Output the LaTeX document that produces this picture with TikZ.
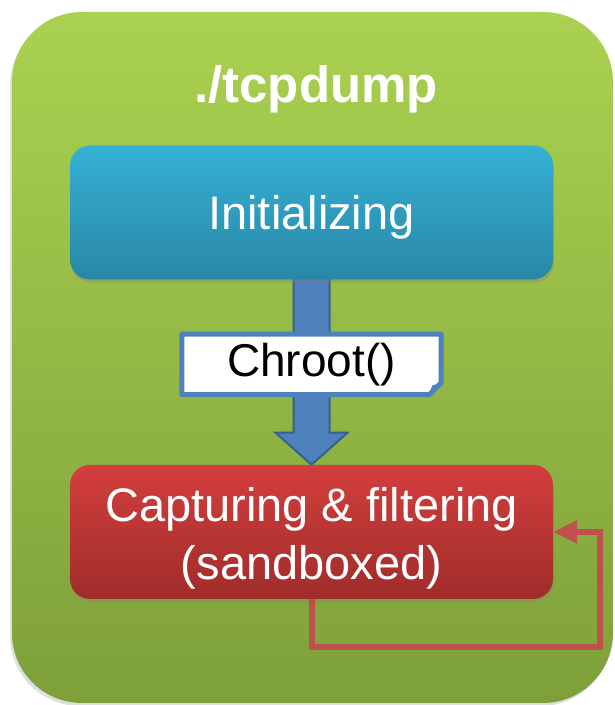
\documentclass[tikz,border=0pt]{standalone}
\usepackage{fontspec}
\setmainfont{Liberation Sans}
\usepackage{xcolor}
\usepackage{tikz}
\usetikzlibrary{positioning}
\usetikzlibrary{calc, shadows, arrows.meta}
\definecolor{framegreenT}{HTML}{AAD150}
\definecolor{framegreenB}{HTML}{7EA03A}
\definecolor{initblueT}{HTML}{35B1D5}
\definecolor{initblueB}{HTML}{2987A6}
\definecolor{captredT}{HTML}{D23F3D}
\definecolor{captredB}{HTML}{A02C2A}
\definecolor{arrowblue}{HTML}{4F81BD}
\definecolor{arrowedge}{HTML}{3A5F8C}
\definecolor{looped}{HTML}{C0504D}
\pgfdeclarelayer{back}
\pgfdeclarelayer{mid}
\pgfdeclarelayer{front}
\pgfsetlayers{back,mid,main,front}
\tikzset{
    frame/.style={rectangle, rounded corners=70pt, minimum width=601pt, minimum height=691pt, top color=framegreenT, bottom color=framegreenB, drop shadow={opacity=0.25, shadow xshift=-2pt, shadow yshift=-3pt}},
    stage/.style={rectangle, rounded corners=20pt, minimum width=483pt, minimum height=134pt, text=white, align=center, font=\fontsize{47}{58}\selectfont, drop shadow={opacity=0.35, shadow xshift=1pt, shadow yshift=-3pt}},
    title/.style={text=white, font=\fontsize{51}{60}\selectfont\bfseries, text depth=0pt},
    note/.style={rectangle, minimum width=259pt, minimum height=60pt, font=\fontsize{46}{55}\selectfont},
    noteline/.style={draw=arrowblue, line width=5pt, fill=white, line join=round},
    blockarrow/.style={draw=arrowedge, line width=2pt, fill=arrowblue, line join=miter},
    loopline/.style={draw=looped, line width=6pt, -{Triangle[length=24pt,width=22pt]}}
}
\begin{document}
\begin{tikzpicture}[x=1pt, y=1pt]
\useasboundingbox (0,0) rectangle (615,705);

\begin{pgfonlayer}{back}
\node [frame]                                   (frame)     at (312.5,347.5) {};
\end{pgfonlayer}
\node [title]                                   (tcpdump)   at (316,621)     {./tcpdump};
\node [stage, text depth=0pt, top color=initblueT, bottom color=initblueB] (init) at (311.5,492.5) {Initializing};
\node [stage, top color=captredT, bottom color=captredB, below=185pt of init] (capt) {\rule{0pt}{46pt}Capturing \& filtering\\(sandboxed)};
\begin{pgfonlayer}{front}
\node [note, below=54.5pt of init]              (chroot)                     {Chroot()};
\end{pgfonlayer}
\coordinate                                     (turn)      at (600,58);

% chroot arrow
\begin{pgfonlayer}{mid}
\draw [blockarrow] ($(init.south)+(-18,10)$) -- ($(capt.north)+(-18,32)$) -- ($(capt.north)+(-36,32)$)
    -- (capt.north) -- ($(capt.north)+(36,32)$) -- ($(capt.north)+(18,32)$) -- ($(init.south)+(18,10)$) -- cycle;
\end{pgfonlayer}
\draw [noteline] (chroot.north west) -- (chroot.north east) -- ($(chroot.south east)+(0,12)$)
    -- ($(chroot.south east)+(-12,0)$) -- (chroot.south west) -- cycle;
\fill [arrowblue] ($(chroot.south east)+(0,12)$) -- ($(chroot.south east)+(-12,0)$) -- ($(chroot.south east)+(-9,9)$) -- cycle;

% loop back
\draw [loopline] (capt.south) |- (turn) |- (capt.east);

\end{tikzpicture}
\end{document}
